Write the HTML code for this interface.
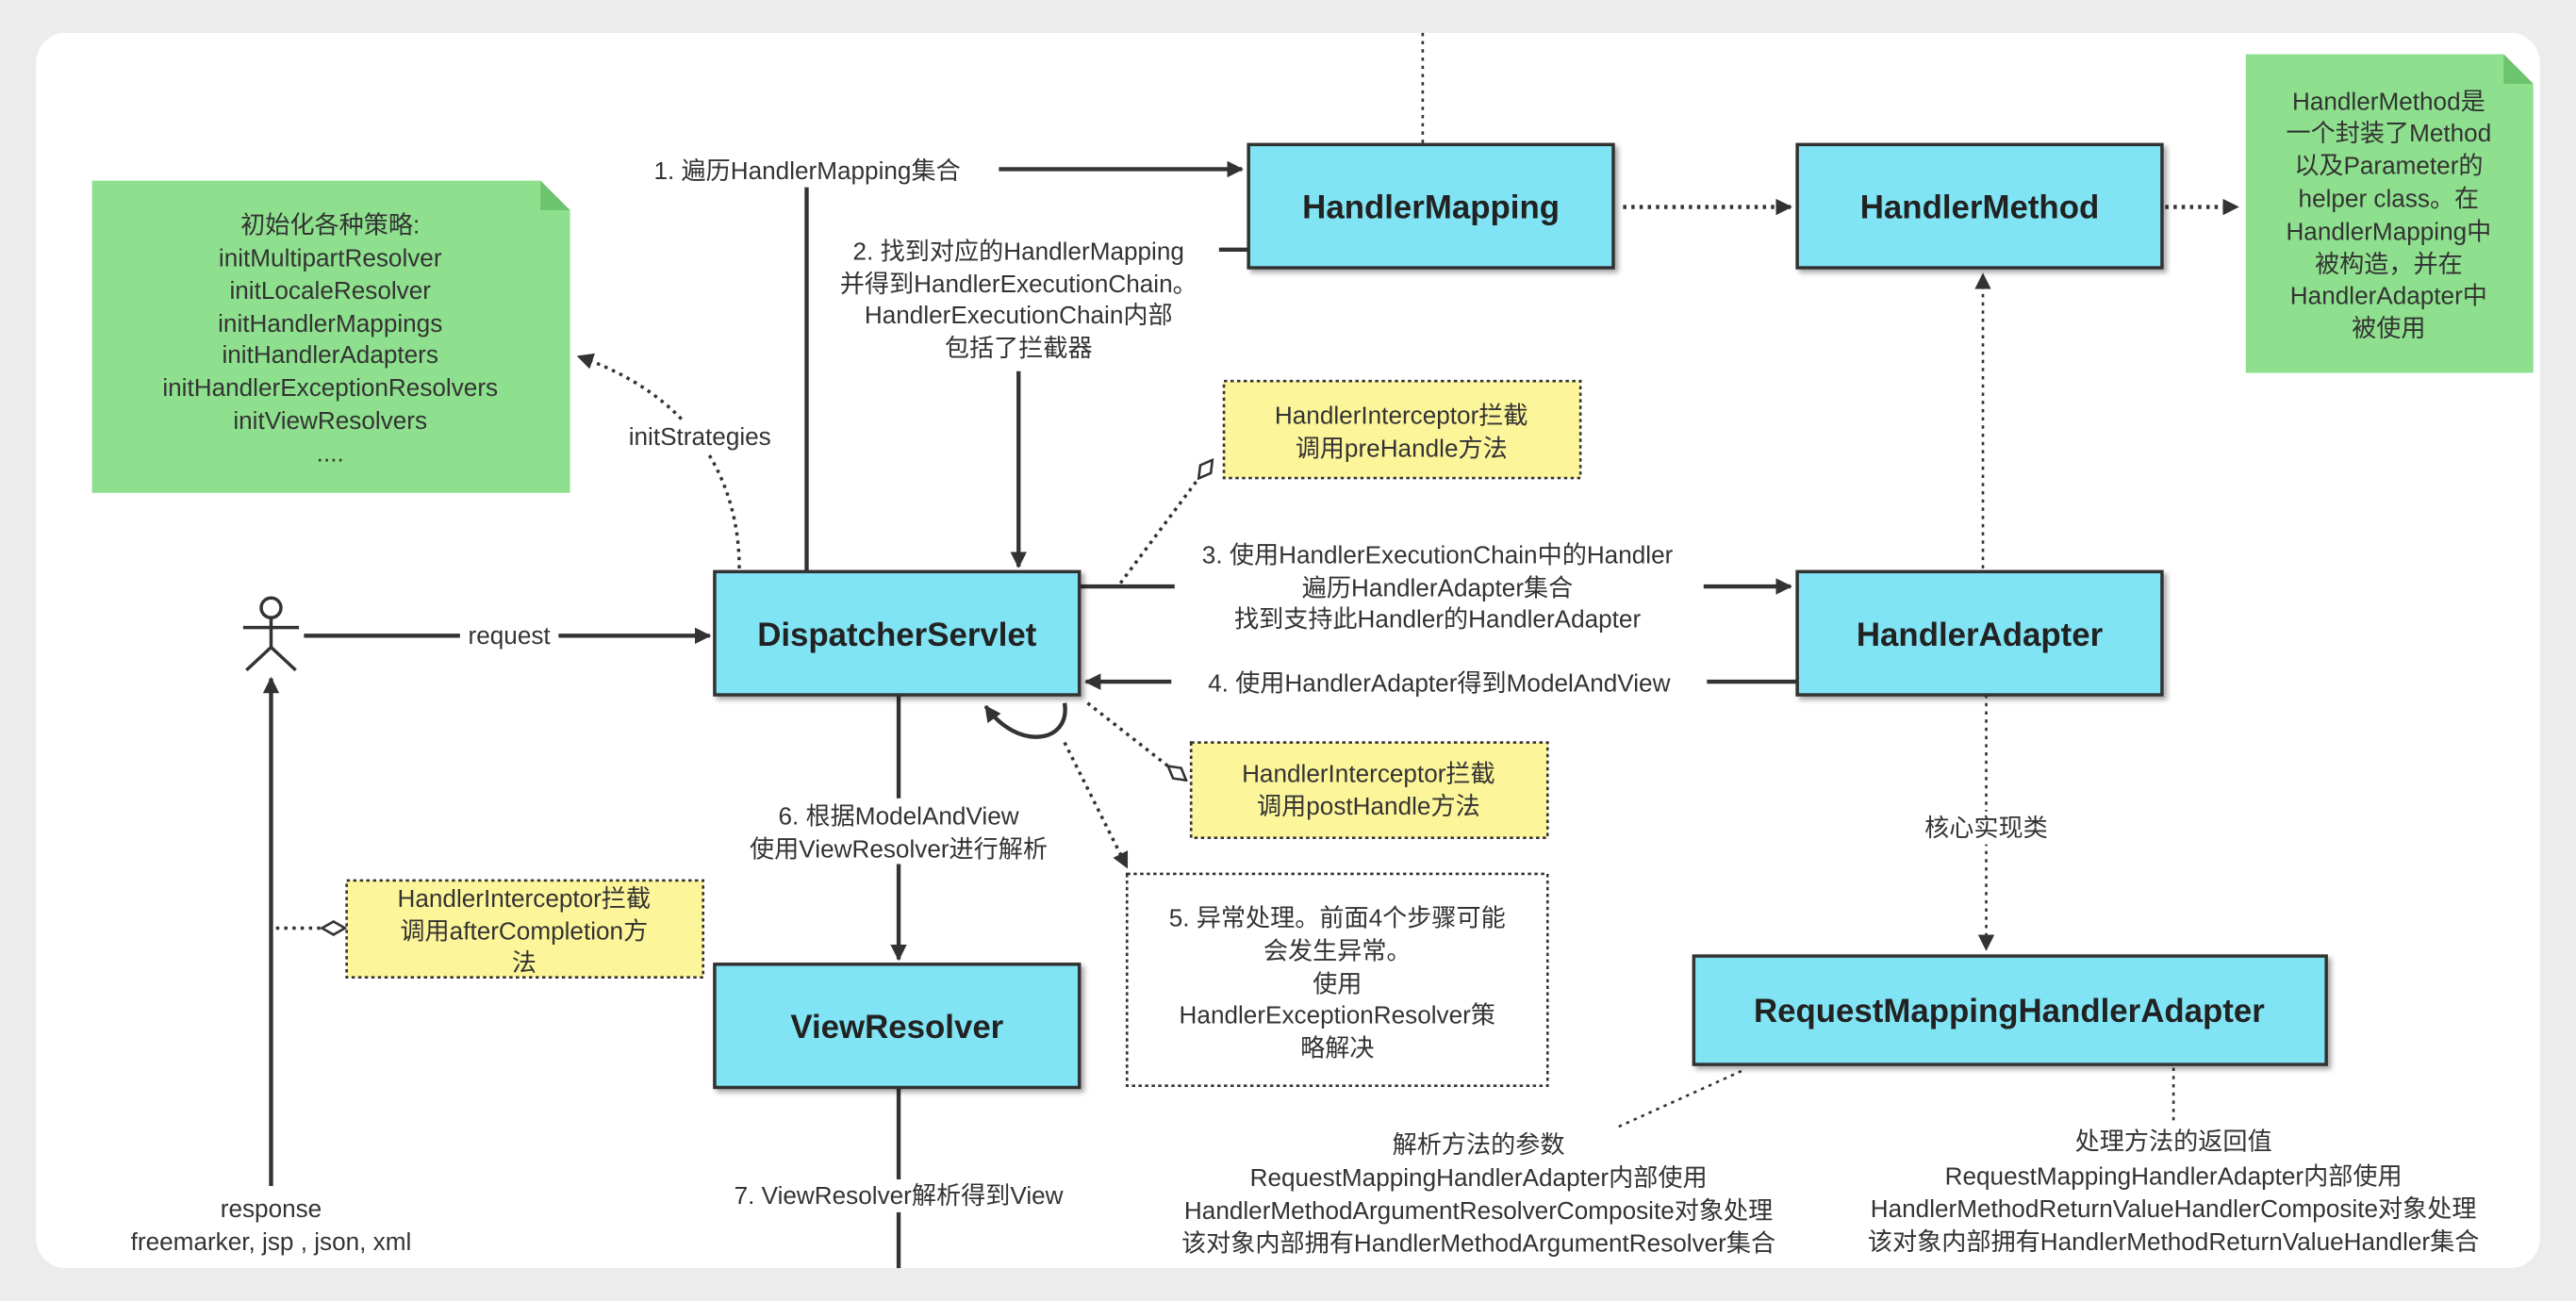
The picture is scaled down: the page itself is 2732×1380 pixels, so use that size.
<!DOCTYPE html>
<html><head><meta charset="utf-8"><style>
html,body{margin:0;padding:0;background:#ececec;}
svg{display:block}
text{font-family:"Liberation Sans","Noto Sans CJK SC",sans-serif;fill:#333;}
</style></head><body>
<svg width="2732" height="1380" viewBox="0 0 1568 792" preserveAspectRatio="none" xmlns="http://www.w3.org/2000/svg">
<defs>
<marker id="a" markerWidth="10" markerHeight="10" refX="9" refY="5" orient="auto" markerUnits="userSpaceOnUse"><path d="M0,0 L10,5 L0,10 z" fill="#333"/></marker>
<marker id="d" markerWidth="16" markerHeight="10" refX="15" refY="5" orient="auto" markerUnits="userSpaceOnUse"><path d="M1,5 L8,1 L15,5 L8,9 z" fill="#fff" stroke="#333" stroke-width="1.5"/></marker>
<filter id="s"><feDropShadow dx="2" dy="2" stdDeviation="1.5" flood-opacity="0.35"/></filter>
</defs>
<rect x="0" y="0" width="1568" height="792" fill="#ececec"/>
<rect x="22" y="20" width="1524" height="752" rx="18" fill="#fff"/>

<!-- green notes -->
<path d="M56,110 H329 L347,128 V300 H56 Z" fill="#8ee08e"/>
<path d="M329,110 L347,128 H329 Z" fill="#6cc46c"/>
<g font-size="15" text-anchor="middle">
<text x="201" y="142">初始化各种策略:</text>
<text x="201" y="162">initMultipartResolver</text>
<text x="201" y="182">initLocaleResolver</text>
<text x="201" y="202">initHandlerMappings</text>
<text x="201" y="221">initHandlerAdapters</text>
<text x="201" y="241">initHandlerExceptionResolvers</text>
<text x="201" y="261">initViewResolvers</text>
<text x="201" y="281">....</text>
</g>
<path d="M1367,33 H1524 L1542,51 V227 H1367 Z" fill="#8ee08e"/>
<path d="M1524,33 L1542,51 H1524 Z" fill="#6cc46c"/>
<g font-size="15" text-anchor="middle">
<text x="1454" y="67">HandlerMethod是</text>
<text x="1454" y="86">一个封装了Method</text>
<text x="1454" y="106">以及Parameter的</text>
<text x="1454" y="126">helper class。在</text>
<text x="1454" y="146">HandlerMapping中</text>
<text x="1454" y="166">被构造，并在</text>
<text x="1454" y="185">HandlerAdapter中</text>
<text x="1454" y="205">被使用</text>
</g>

<!-- connectors -->
<g stroke="#333" stroke-width="2.5" fill="none">
<line x1="866" y1="20" x2="866" y2="88" stroke-width="1.5" stroke-dasharray="2,3"/>
<polyline points="491,348 491,103 756,103" marker-end="url(#a)"/>
<line x1="982" y1="152" x2="760" y2="152"/>
<line x1="760" y1="152" x2="742" y2="152"/>
<line x1="620" y1="226" x2="620" y2="345" marker-end="url(#a)"/>
<line x1="988" y1="126" x2="1090" y2="126" stroke-dasharray="2,3" marker-end="url(#a)"/>
<line x1="1318" y1="126" x2="1362" y2="126" stroke-dasharray="2,3" marker-end="url(#a)"/>
<line x1="1207" y1="346" x2="1207" y2="167" stroke-width="1.5" stroke-dasharray="2,3" marker-end="url(#a)"/>
<path d="M450,346 C450,290 420,240 352,217" stroke-width="2" stroke-dasharray="2,3" marker-end="url(#a)"/>
<line x1="185" y1="387" x2="432" y2="387" marker-end="url(#a)"/>
<line x1="165" y1="722" x2="165" y2="413" marker-end="url(#a)"/>
<line x1="657" y1="357" x2="715" y2="357"/>
<line x1="1037" y1="357" x2="1090" y2="357" marker-end="url(#a)"/>
<line x1="1094" y1="415" x2="661" y2="415" marker-end="url(#a)"/>
<path d="M648,428 C652,452 620,458 600,430" marker-end="url(#a)"/>
<line x1="682" y1="355" x2="738" y2="280" stroke-width="2" stroke-dasharray="2,3" marker-end="url(#d)"/>
<line x1="662" y1="428" x2="722" y2="475" stroke-width="2" stroke-dasharray="2,3" marker-end="url(#d)"/>
<line x1="648" y1="452" x2="686" y2="528" stroke-width="2" stroke-dasharray="2,3" marker-end="url(#a)"/>
<line x1="547" y1="423" x2="547" y2="584" marker-end="url(#a)"/>
<line x1="168" y1="565" x2="210" y2="565" stroke-width="2" stroke-dasharray="2,3" marker-end="url(#d)"/>
<line x1="547" y1="662" x2="547" y2="772"/>
<line x1="1209" y1="423" x2="1209" y2="578" stroke-width="1.5" stroke-dasharray="2,3" marker-end="url(#a)"/>
<line x1="1060" y1="652" x2="985" y2="686" stroke-width="1.5" stroke-dasharray="2,3"/>
<line x1="1323" y1="650" x2="1323" y2="685" stroke-width="1.5" stroke-dasharray="2,3"/>
</g>

<!-- actor -->
<g stroke="#333" stroke-width="2" fill="none">
<circle cx="165" cy="370" r="6" fill="#fff"/>
<line x1="165" y1="376" x2="165" y2="394"/>
<line x1="148" y1="382" x2="182" y2="382"/>
<line x1="165" y1="394" x2="150" y2="408"/>
<line x1="165" y1="394" x2="180" y2="408"/>
</g>

<!-- label backgrounds + labels -->
<g font-size="15">
<rect x="394" y="94" width="214" height="20" fill="#fff"/>
<text x="398" y="109">1. 遍历HandlerMapping集合</text>
<g text-anchor="middle">
<text x="620" y="158">2. 找到对应的HandlerMapping</text>
<text x="620" y="178">并得到HandlerExecutionChain。</text>
<text x="620" y="197">HandlerExecutionChain内部</text>
<text x="620" y="217">包括了拦截器</text>
<rect x="372" y="256" width="110" height="20" fill="#fff"/>
<text x="426" y="271">initStrategies</text>
<rect x="280" y="378" width="60" height="20" fill="#fff"/>
<text x="310" y="392">request</text>
<text x="875" y="343">3. 使用HandlerExecutionChain中的Handler</text>
<text x="875" y="363">遍历HandlerAdapter集合</text>
<text x="875" y="382">找到支持此Handler的HandlerAdapter</text>
<rect x="713" y="406" width="326" height="20" fill="#fff"/>
<text x="876" y="421">4. 使用HandlerAdapter得到ModelAndView</text>
<rect x="445" y="486" width="200" height="40" fill="#fff"/>
<text x="547" y="502">6. 根据ModelAndView</text>
<text x="547" y="522">使用ViewResolver进行解析</text>
<rect x="1165" y="494" width="88" height="20" fill="#fff"/>
<text x="1209" y="509">核心实现类</text>
<rect x="430" y="718" width="232" height="20" fill="#fff"/>
<text x="547" y="733">7. ViewResolver解析得到View</text>
<text x="165" y="741">response</text>
<text x="165" y="761">freemarker, jsp , json, xml</text>
<text x="900" y="702">解析方法的参数</text>
<text x="900" y="722">RequestMappingHandlerAdapter内部使用</text>
<text x="900" y="742">HandlerMethodArgumentResolverComposite对象处理</text>
<text x="900" y="762">该对象内部拥有HandlerMethodArgumentResolver集合</text>
<text x="1323" y="700">处理方法的返回值</text>
<text x="1323" y="721">RequestMappingHandlerAdapter内部使用</text>
<text x="1323" y="741">HandlerMethodReturnValueHandlerComposite对象处理</text>
<text x="1323" y="761">该对象内部拥有HandlerMethodReturnValueHandler集合</text>
</g>
</g>

<!-- yellow notes -->
<g fill="#fcf59a" stroke="#333" stroke-width="1.5" stroke-dasharray="2,2">
<rect x="745" y="232" width="217" height="59"/>
<rect x="725" y="452" width="217" height="58"/>
<rect x="211" y="536" width="217" height="59"/>
</g>
<rect x="686" y="532" width="256" height="129" fill="#fff" stroke="#333" stroke-width="1.5" stroke-dasharray="2,2"/>
<g font-size="15" text-anchor="middle">
<text x="853" y="258">HandlerInterceptor拦截</text>
<text x="853" y="278">调用preHandle方法</text>
<text x="833" y="476">HandlerInterceptor拦截</text>
<text x="833" y="496">调用postHandle方法</text>
<text x="319" y="552">HandlerInterceptor拦截</text>
<text x="319" y="572">调用afterCompletion方</text>
<text x="319" y="591">法</text>
<text x="814" y="564">5. 异常处理。前面4个步骤可能</text>
<text x="814" y="584">会发生异常。</text>
<text x="814" y="604">使用</text>
<text x="814" y="623">HandlerExceptionResolver策</text>
<text x="814" y="643">略解决</text>
</g>

<!-- main boxes -->
<g fill="#80e4f4" stroke="#333" stroke-width="2" filter="url(#s)">
<rect x="760" y="88" width="222" height="75"/>
<rect x="1094" y="88" width="222" height="75"/>
<rect x="435" y="348" width="222" height="75"/>
<rect x="1094" y="348" width="222" height="75"/>
<rect x="435" y="587" width="222" height="75"/>
<rect x="1031" y="582" width="385" height="66"/>
</g>
<g font-size="20" font-weight="bold" text-anchor="middle">
<text x="871" y="133" style="fill:#222">HandlerMapping</text>
<text x="1205" y="133" style="fill:#222">HandlerMethod</text>
<text x="546" y="393" style="fill:#222">DispatcherServlet</text>
<text x="1205" y="393" style="fill:#222">HandlerAdapter</text>
<text x="546" y="632" style="fill:#222">ViewResolver</text>
<text x="1223" y="622" style="fill:#222">RequestMappingHandlerAdapter</text>
</g>
</svg>
</body></html>
